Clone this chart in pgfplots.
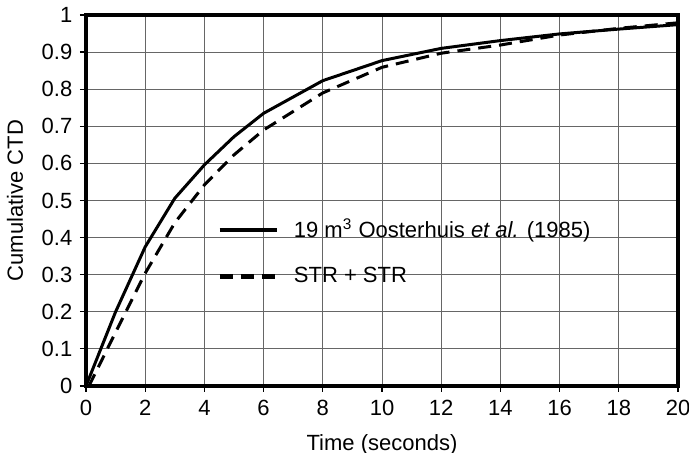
\documentclass[border=0pt]{standalone}
\usepackage{fontspec}
\setmainfont{Liberation Sans}
\usepackage{pgfplots}
\pgfplotsset{compat=1.18}
\usetikzlibrary{calc}
\begin{document}
\fontsize{11}{13}\selectfont
\begin{tikzpicture}
\begin{axis}[name=ax,
  width=296pt, height=185.5pt, scale only axis,
  xmin=0, xmax=20, ymin=0, ymax=1,
  xtick={0,2,4,6,8,10,12,14,16,18,20},
  ytick={0,0.1,0.2,0.3,0.4,0.5,0.6,0.7,0.8,0.9,1},
  /pgf/number format/assume math mode=true,
  xticklabel style={text height=8pt, text depth=0pt},
  xtick pos=bottom, ytick pos=left,
  tick align=outside, major tick length=3pt,
  tick style={black, line width=0.6pt},
  axis line style={line width=2.2pt},
  grid=major,
  major grid style={black!60, line width=0.5pt},
  xlabel={Time (seconds)},
  ylabel={Cumulative CTD},
  x label style={at={(axis description cs:0.5,-0.159)}, anchor=center},
  y label style={at={(axis description cs:-0.12,0.5)}, anchor=center},
  legend style={draw=none, fill=none, at={(axis cs:4.43,0.462)}, anchor=north west,
    row sep=9pt, inner xsep=0pt, inner ysep=0pt,
    /tikz/every odd column/.append style={column sep=5.5pt}},
  legend cell align=left,
  legend image code/.code={\draw[#1, line width=2.2pt] (0pt,0pt) -- (28.5pt,0pt);},
]
\addplot[black, line width=1.5pt] coordinates {
(0,0) (1,0.2) (2,0.375) (3,0.506) (4,0.596) (5,0.672) (6,0.735) (8,0.823) (10,0.877) (12,0.910) (14,0.931) (16,0.949) (18,0.962) (20,0.974)
};
\addlegendentry{19 m\textsuperscript{3} Oosterhuis \textit{et al.} (1985)}
\addplot[black, line width=1.5pt, dash pattern=on 6.5pt off 4pt] coordinates {
(0.1,0) (1,0.145) (2,0.304) (3,0.44) (4,0.542) (5,0.623) (6,0.69) (8,0.79) (10,0.859) (12,0.897) (14,0.919) (16,0.946) (18,0.964) (20,0.979)
};
\addlegendentry{STR + STR}
\end{axis}
\pgfresetboundingbox
\path[use as bounding box] ($(ax.south west)+(-43pt,-33.5pt)$) rectangle ($(ax.north east)+(5.5pt,7.5pt)$);
\end{tikzpicture}
\end{document}
